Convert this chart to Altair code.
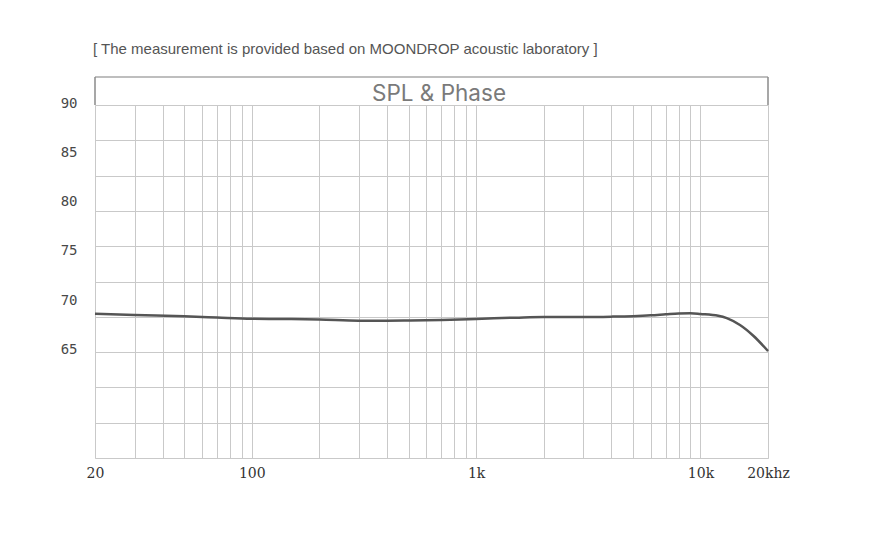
import altair as alt
import pandas as pd

# Frequency response
freq_hz = [20, 30, 50, 70, 100, 150, 200, 300, 400, 500, 700, 1000, 1500, 2000,
           3000, 4000, 5000, 6000, 7000, 8000, 9000, 10000, 12000, 13100, 15000,
           17200, 20000]
spl_db = [68.83, 68.70, 68.56, 68.44, 68.32, 68.28, 68.24, 68.12, 68.12, 68.14,
          68.19, 68.30, 68.43, 68.50, 68.50, 68.53, 68.58, 68.66, 68.77, 68.86,
          68.87, 68.80, 68.62, 68.38, 67.68, 66.59, 65.04]

y_labels = [65, 70, 75, 80, 85, 90]
x_grid = [20, 30, 40, 50, 60, 70, 80, 90, 100, 200, 300, 400, 500, 600, 700, 800,
          900, 1000, 2000, 3000, 4000, 5000, 6000, 7000, 8000, 9000, 10000, 20000]
x_label_text = {20: "20", 100: "100", 1000: "1k", 10000: "10k", 20000: "20khz"}

title_text = "SPL & Phase"
caption_text = "[ The measurement is provided based on MOONDROP acoustic laboratory ]"

y_lo, y_hi = 54.19, 90.0
grid_vals = [y_lo + k * (y_hi - y_lo) / 10 for k in range(11)]

W, H = 673, 353

df = pd.DataFrame({"freq": freq_hz, "spl": spl_db})

label_expr = " : ".join(
    [f"datum.value == {k} ? '{v}'" for k, v in x_label_text.items()]
) + " : ''"

xenc = alt.X(
    "freq:Q",
    scale=alt.Scale(type="log", domain=[20, 20000], nice=False),
    axis=alt.Axis(
        values=x_grid, labelExpr=label_expr, grid=True, gridColor="#c9c9c9",
        gridWidth=1, ticks=False, domain=False, title=None,
        labelFont="DejaVu Serif", labelFontSize=14, labelColor="#333333",
        labelPadding=8, labelFlush=False, labelOverlap=False,
    ),
)
yscale = alt.Scale(domain=[y_lo, y_hi], nice=False, zero=False)

line = alt.Chart(df).mark_line(
    color="#555555", strokeWidth=2.5, interpolate="monotone"
).encode(
    x=xenc,
    y=alt.Y("spl:Q", scale=yscale, axis=alt.Axis(
        values=y_labels, grid=False, ticks=False, domain=False, title=None,
        labelFont="DejaVu Sans Mono", labelFontSize=14, labelColor="#484848",
        labelPadding=18, labelOverlap=False, labelFlush=False, labelOffset=-2,
    )),
)

gridlayer = alt.Chart(df).mark_line(opacity=0).encode(
    x=alt.X("freq:Q", scale=alt.Scale(type="log", domain=[20, 20000], nice=False)),
    y=alt.Y("spl:Q", scale=yscale, axis=alt.Axis(
        values=grid_vals, grid=True, gridColor="#c9c9c9", gridWidth=1,
        labels=False, ticks=False, domain=False, title=None, orient="right",
    )),
)

one = pd.DataFrame({"a": [0]})
box_top = alt.Chart(one).mark_rule(color="#a8a8a8", strokeWidth=1.5).encode(
    x=alt.value(0), x2=alt.value(W), y=alt.value(-28)
)
box_left = alt.Chart(one).mark_rule(color="#8a8a8a", strokeWidth=1.5).encode(
    x=alt.value(0), y=alt.value(-28), y2=alt.value(0)
)
box_right = alt.Chart(one).mark_rule(color="#8a8a8a", strokeWidth=1.5).encode(
    x=alt.value(W), y=alt.value(-28), y2=alt.value(0)
)
title = alt.Chart(pd.DataFrame({"t": [title_text]})).mark_text(
    font="Inter", fontSize=22.5, color="#7a7a7a", align="center", baseline="middle"
).encode(text="t:N", x=alt.value(344), y=alt.value(-11))
caption = alt.Chart(pd.DataFrame({"t": [caption_text]})).mark_text(
    font="Liberation Sans", fontSize=15, color="#555555", align="left", baseline="middle"
).encode(text="t:N", x=alt.value(-2), y=alt.value(-56))

chart = alt.layer(
    line, gridlayer, box_top, box_left, box_right, title, caption
).resolve_axis(y="independent").properties(
    width=W, height=H,
    autosize=alt.AutoSizeParams(type="none"),
    padding={"left": 87, "top": 97, "right": 90, "bottom": 90},
).configure_view(
    stroke="#6e6e6e", strokeWidth=1.5
).configure(background="white")

chart.save("out.html", embed_options={"renderer": "svg", "actions": False})
